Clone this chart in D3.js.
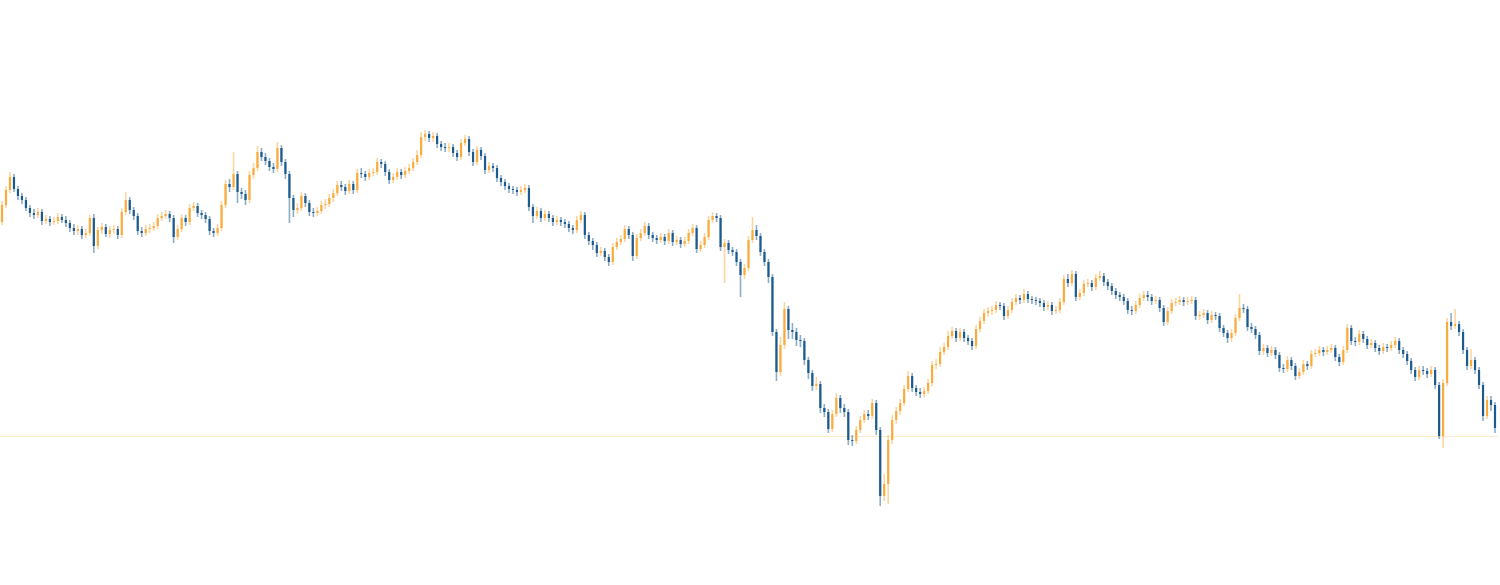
<!DOCTYPE html>
<html>
<head>
<meta charset="utf-8">
<script src="https://cdn.jsdelivr.net/npm/d3@7"></script>
<style>
html,body{margin:0;padding:0;background:#fff;overflow:hidden;}
svg{display:block;}
</style>
</head>
<body>
<svg id="chart" width="1500" height="585"></svg>
<script>
// OHLC series (price units), one candle per period
const opens = [
378,395,410,423,411,404,400,392,387,385,
388,379,381,378,379,383,380,377,372,369,
371,365,367,382,354,370,373,366,370,371,
365,388,400,390,384,369,367,371,372,374,
382,384,386,382,363,371,382,378,392,394,
387,385,381,369,367,372,395,416,413,426,
408,406,400,425,432,448,443,439,433,431,
452,438,426,402,390,392,404,397,388,387,
389,395,396,402,407,415,413,409,416,410,
427,426,423,427,428,438,436,428,420,423,
428,425,429,432,438,445,463,466,462,464,
456,453,452,453,447,443,457,461,448,438,
450,444,430,434,432,422,418,414,411,410,
408,410,412,393,384,389,382,386,382,378,
380,378,376,372,370,380,385,365,359,355,
347,349,343,338,353,358,361,371,365,344,
362,367,374,365,362,360,363,359,367,358,
360,356,359,367,372,351,355,363,380,384,
382,353,357,350,348,338,325,332,360,370,
364,348,338,323,268,228,255,291,270,268,
260,259,240,227,214,216,192,188,171,186,
202,192,188,160,159,170,180,186,184,197,
170,104,116,160,180,189,197,211,224,212,
208,206,209,217,235,236,248,253,264,269,
262,268,262,259,254,271,279,287,289,290,
295,294,284,290,298,302,300,306,301,300,
299,297,293,295,289,290,298,321,317,326,
303,307,316,317,313,322,324,318,314,309,
305,303,299,290,289,295,302,305,303,299,
300,292,278,289,297,298,300,298,299,300,
284,285,287,280,285,284,272,267,262,267,
282,292,291,273,271,265,249,252,247,250,
245,232,231,240,234,224,228,236,234,246,
247,250,248,250,252,243,238,250,272,259,
258,266,261,255,257,252,249,253,252,255,
259,250,246,239,230,223,230,229,226,230,
215,164,217,278,274,276,268,250,234,240,
230,215,184,200,195
];
const highs = [
398,413,427,425,413,406,402,394,390,391,
390,384,383,382,386,385,383,379,375,374,
373,370,384,385,372,376,375,373,374,373,
391,407,402,392,386,372,374,375,377,385,
387,389,388,384,374,385,384,395,397,396,
389,387,383,371,375,398,419,420,447,428,
411,409,428,436,453,451,446,441,436,457,
454,440,428,404,396,407,406,399,391,392,
398,400,405,410,418,418,415,419,418,430,
431,428,430,431,441,440,438,430,426,431,
430,432,435,441,449,467,469,468,467,466,
458,456,456,455,449,460,464,463,450,453,
452,446,437,436,434,424,420,416,413,412,
413,415,414,395,392,391,389,388,384,383,
382,380,378,374,383,388,387,367,361,357,
352,351,345,356,361,364,374,373,367,365,
370,377,376,367,364,366,365,370,369,363,
362,362,370,375,374,358,366,383,387,386,
384,360,359,352,350,340,335,363,382,374,
366,350,340,325,270,262,297,293,276,271,
264,261,242,229,222,218,195,190,189,206,
204,195,190,164,173,183,189,189,200,199,
172,125,164,184,192,200,214,228,226,214,
211,212,220,238,240,252,256,268,272,271,
271,270,264,261,274,282,290,292,293,298,
297,296,293,301,305,304,310,308,303,302,
301,299,298,297,293,301,324,325,329,328,
310,319,320,319,325,328,326,320,316,311,
307,305,301,293,298,305,308,308,305,303,
302,294,292,300,301,303,302,302,303,302,
288,290,289,288,287,286,274,269,270,285,
305,295,293,276,273,267,255,254,253,252,
247,235,243,242,236,231,239,238,249,250,
253,252,253,255,254,245,253,275,274,262,
269,268,263,260,259,254,256,255,258,262,
261,252,248,241,232,233,233,231,233,232,
217,220,281,286,290,278,270,252,250,242,
232,217,203,203,197
];
const lows = [
376,393,408,409,401,397,390,384,382,383,
376,377,375,376,377,378,374,369,366,366,
362,363,365,348,352,367,364,363,367,362,
363,386,387,381,366,364,365,368,370,372,
380,382,379,358,361,369,375,376,390,384,
382,378,366,364,365,370,393,409,411,398,
402,396,398,422,430,440,436,430,428,429,
435,422,378,384,387,390,394,385,384,385,
387,392,394,399,405,410,406,407,407,408,
423,420,421,425,426,433,425,417,418,421,
422,423,427,430,436,443,460,459,459,453,
450,449,449,444,440,441,455,445,435,436,
441,427,428,429,419,415,411,408,407,405,
406,408,390,378,382,379,380,379,375,376,
375,373,369,367,368,378,362,356,351,344,
345,340,335,336,351,356,359,362,340,342,
360,365,362,359,357,358,356,357,355,356,
353,354,357,365,348,349,353,361,378,379,
350,318,347,345,335,304,322,330,358,361,
345,335,318,265,220,225,252,262,262,255,
254,236,222,210,211,188,184,168,169,184,
188,184,156,155,157,168,178,181,182,166,
95,100,97,157,177,186,195,209,209,205,
203,204,207,215,232,234,246,251,262,259,
260,259,256,251,252,269,277,284,286,288,
291,281,282,288,296,297,298,298,297,296,
294,290,291,286,287,288,296,314,315,300,
301,305,314,310,311,320,315,311,306,302,
300,296,287,286,287,293,300,300,296,297,
289,275,276,287,295,296,295,296,297,281,
281,283,277,278,281,269,264,258,259,265,
280,288,270,268,262,246,246,244,245,242,
229,228,229,231,221,222,226,231,232,244,
245,245,246,248,240,235,236,248,256,255,
256,258,252,253,249,246,247,249,250,253,
247,243,236,227,220,221,226,223,224,212,
162,153,215,271,272,265,247,231,232,227,
212,180,182,190,168
];
const closes = [
395,410,423,411,404,400,392,387,385,388,
379,381,378,379,383,380,377,372,369,371,
365,367,382,354,370,373,366,370,371,365,
388,400,390,384,369,367,371,372,374,382,
384,386,382,363,371,382,378,392,394,387,
385,381,369,367,372,395,416,413,426,408,
406,400,425,432,448,443,439,433,431,452,
438,426,402,390,392,404,397,388,387,389,
395,396,402,407,415,413,409,416,410,427,
426,423,427,428,438,436,428,420,423,428,
425,429,432,438,445,463,466,462,464,456,
453,452,453,447,443,457,461,448,438,450,
444,430,434,432,422,418,414,411,410,408,
410,412,393,384,389,382,386,382,378,380,
378,376,372,370,380,385,365,359,355,347,
349,343,338,353,358,361,371,365,344,362,
367,374,365,362,360,363,359,367,358,360,
356,359,367,372,351,355,363,380,384,382,
353,357,350,348,338,325,332,360,370,364,
348,338,323,268,228,255,291,270,268,260,
259,240,227,214,216,192,188,171,186,202,
192,188,160,159,170,180,186,184,197,170,
104,116,160,180,189,197,211,224,212,208,
206,209,217,235,236,248,253,264,269,262,
268,262,259,254,271,279,287,289,290,295,
294,284,290,298,302,300,306,301,300,299,
297,293,295,289,290,298,321,317,326,303,
307,316,317,313,322,324,318,314,309,305,
303,299,290,289,295,302,305,303,299,300,
292,278,289,297,298,300,298,299,300,284,
285,287,280,285,284,272,267,262,267,282,
292,291,273,271,265,249,252,247,250,245,
232,231,240,234,224,228,236,234,246,247,
250,248,250,252,243,238,250,272,259,258,
266,261,255,257,252,249,253,252,255,259,
250,246,239,230,223,230,229,226,230,215,
164,217,278,274,276,268,250,234,240,230,
215,184,200,195,172
];
// reference level (horizontal line)
const refLevel = [164];

const W = 1500, H = 585;
const upColor = "#f9ac3d", downColor = "#1b5a8e", refColor = "#fde9cc";

const data = closes.map((c, i) => ({i, o: opens[i], h: highs[i], l: lows[i], c}));
const svg = d3.select("#chart");
const x = d3.scaleBand().domain(d3.range(data.length)).range([0, W - 3]).padding(0);
const y = d3.scaleLinear().domain([0, 600]).range([600, 0]);

svg.append("line")
  .attr("x1", 0).attr("x2", W - 2)
  .attr("y1", Math.round(y(refLevel[0])) + 0.5).attr("y2", Math.round(y(refLevel[0])) + 0.5)
  .attr("stroke", refColor).attr("stroke-width", 1);

const g = svg.append("g");
const bw = x.bandwidth();
const cand = g.selectAll("g.c").data(data).join("g").attr("class", "c");

cand.append("line")
  .attr("x1", d => x(d.i) + bw / 2).attr("x2", d => x(d.i) + bw / 2)
  .attr("y1", d => y(d.h) - 1).attr("y2", d => y(d.l) + 1)
  .attr("stroke", d => d.c >= d.o ? upColor : downColor)
  .attr("stroke-opacity", 0.5)
  .attr("stroke-width", 1.6);

cand.append("rect")
  .attr("x", d => x(d.i) + bw / 2 - 1.1)
  .attr("width", 2.2)
  .attr("y", d => y(Math.max(d.o, d.c)))
  .attr("height", d => Math.max(1, Math.abs(y(d.o) - y(d.c))))
  .attr("fill", d => d.c >= d.o ? upColor : downColor);
</script>
</body>
</html>
